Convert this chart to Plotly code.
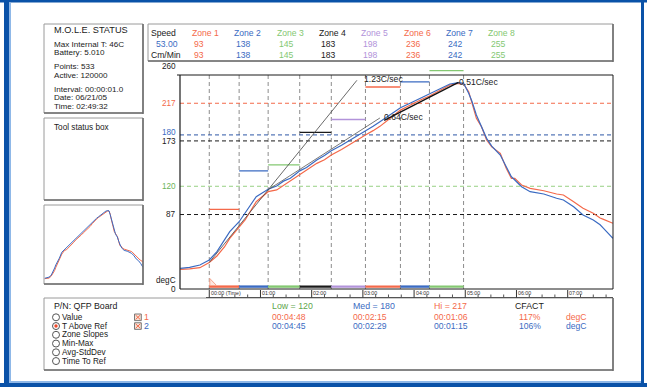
import plotly.graph_objects as go

W, H = 647, 387
FONT = "Liberation Sans, Arial, sans-serif"

ORANGE = "#f4694a"
BLUE = "#3b6bc2"
GREEN = "#84c872"
PURPLE = "#b293da"
BLACK = "#1a1a1a"
FRAME_BLUE = "#0a52a8"
LIGHT_BLUE = "#8fb8e8"

# ---- profile readings (seconds from zone 1 entry, degC) ----
time_s = [-34, -23, -11, 0, 9, 18, 24, 35, 42, 55, 69, 79, 87, 95, 101, 106,
          114, 126, 135, 143, 155, 165, 175, 183, 192, 200, 212, 224, 234,
          243, 250, 258, 270, 282, 292, 298, 304, 308, 313, 319, 325, 331,
          337, 341, 348, 354, 358, 366, 376, 392, 407, 415, 427, 438, 450,
          458, 462, 473]
probe1_degC = [23.0, 23.4, 24.9, 31.0, 38.6, 49.4, 59.2, 72.8, 80.6, 102.0,
               113.7, 115.7, 121.0, 125.4, 130.0, 133.0, 138.0, 146.8, 151.0,
               156.5, 163.0, 169.4, 175.0, 180.0, 185.0, 190.0, 199.4, 209.0,
               214.0, 218.8, 222.0, 225.5, 231.7, 238.3, 240.3, 239.5, 230.5,
               217.6, 199.4, 189.6, 174.0, 166.0, 162.0, 158.5, 141.0, 129.3,
               129.3, 121.5, 117.6, 114.8, 111.0, 109.8, 102.0, 94.3, 88.4,
               83.0, 81.4, 76.8]
probe2_degC = [24.2, 25.3, 28.0, 33.9, 43.6, 57.2, 67.0, 78.6, 88.4, 107.8,
               116.5, 120.3, 126.0, 129.3, 134.0, 138.0, 142.0, 150.7, 156.0,
               161.6, 168.0, 174.0, 180.0, 184.0, 190.0, 195.5, 203.3, 211.8,
               216.5, 220.8, 224.0, 227.8, 233.3, 239.5, 241.0, 240.3, 228.6,
               218.8, 203.3, 189.6, 176.0, 167.0, 160.0, 156.5, 142.9, 131.2,
               127.3, 119.5, 113.7, 111.0, 106.0, 104.0, 96.1, 86.4, 80.6,
               75.0, 70.9, 59.2]

zone_names = ["Zone 1", "Zone 2", "Zone 3", "Zone 4",
              "Zone 5", "Zone 6", "Zone 7", "Zone 8"]
zone_setpoints = [93, 138, 145, 183, 198, 236, 242, 255]
zone_colors = [ORANGE, BLUE, GREEN, BLACK, PURPLE, ORANGE, BLUE, GREEN]
zone_edges_s = [0, 35, 69, 106, 143, 183, 224, 258, 298]
conveyor_speed = "53.00"

ref_levels = [217, 180, 173, 120, 87]
ref_colors = [ORANGE, "#2c56a6", BLACK, "#98d084", BLACK]
axis_labels = [260, 217, 180, 173, 120, 87, 0]
axis_label_colors = [BLACK, ORANGE, BLUE, BLACK, "#6db35a", BLACK, BLACK]
axis_label_shift = [0, 0, 2, -1, 0, 0, 0]

slope_rates = [1.23, 0.64, 0.51]
slope_t0 = [0, 69, 205]
slope_T0 = [31, 116, 197]
slope_t1 = [173, 200, 292]

tick_minutes = [0, 1, 2, 3, 4, 5, 6, 7]
tick_labels = ["00:00 (Time)", "01:00", "02:00", "03:00",
               "04:00", "05:00", "06:00", "07:00"]

status_lines = ["Max Internal T: 46C", "Battery: 5.010", "Points: 533",
                "Active: 120000", "Interval: 00:00:01.0", "Date: 06/21/05",
                "Time: 02:49:32"]
view_options = ["Value", "T Above Ref", "Zone Slopes", "Min-Max",
                "Avg-StdDev", "Time To Ref"]
selected_view = "T Above Ref"
stat_headers = ["Low = 120", "Med = 180", "Hi = 217", "CFACT"]
stat_header_colors = ["#5ea64c", BLUE, ORANGE, BLACK]
probe1_stats = ["00:04:48", "00:02:15", "00:01:06", "117%", "degC"]
probe2_stats = ["00:04:45", "00:02:29", "00:01:15", "106%", "degC"]

X_RANGE = [-34.3, 473.1]
Y_RANGE = [0, 260]


def PX(x):
    return x / W


def PY(y):
    return 1 - y / H


shapes = []
annotations = []


def line_px(x0, y0, x1, y1, color, width=1, dash=None, layer="above"):
    shapes.append(dict(type="line", xref="paper", yref="paper", layer=layer,
                       x0=PX(x0), y0=PY(y0), x1=PX(x1), y1=PY(y1),
                       line=dict(color=color, width=width, dash=dash)))


def rect_px(x0, y0, x1, y1, fill, color=None, width=0, layer="below"):
    shapes.append(dict(type="rect", xref="paper", yref="paper", layer=layer,
                       x0=PX(x0), y0=PY(y0), x1=PX(x1), y1=PY(y1),
                       fillcolor=fill, line=dict(color=color or fill, width=width)))


def panel_box(x0, y0, x1, y1):
    rect_px(x0, y0, x1, y1, "white", "#9a9a9a", 1)
    line_px(x1, y0, x1, y1 + 1, "#6e6e6e", 1.6)
    line_px(x0, y1, x1, y1, "#6e6e6e", 1.6)


def text_px(x, y, s, color=BLACK, size=8.2, anchor="left"):
    annotations.append(dict(xref="paper", yref="paper", x=PX(x), y=PY(y),
                            text=s, showarrow=False, xanchor=anchor,
                            yanchor="middle", borderpad=0,
                            font=dict(family=FONT, size=size, color=color)))


# ---- outer window frame ----
rect_px(0, 0, W, 2.5, FRAME_BLUE, layer="above")
rect_px(4, 0, 9, H, FRAME_BLUE, layer="above")
rect_px(9, 2.5, 11, 383, LIGHT_BLUE, layer="above")
rect_px(0, 383, W, H, FRAME_BLUE, layer="above")
rect_px(11, 381, 641, 383, LIGHT_BLUE, layer="above")
rect_px(641, 0, 644, H, FRAME_BLUE, layer="above")

# ---- status box ----
panel_box(44, 24, 143, 113)
text_px(53, 30, "M.O.L.E. STATUS", size=9.2)
for s, yy in zip(status_lines, [44, 52.7, 67, 75.3, 89, 97.3, 106]):
    text_px(53, yy, s, size=8.1)

# ---- tool status box ----
panel_box(44, 118, 143, 200)
text_px(53, 127, "Tool status box")

# ---- overview chart box ----
panel_box(44, 205, 143, 284)

# ---- zone speed table ----
panel_box(148, 24, 613, 61)
text_px(150, 33.3, "Speed", size=8.6)
text_px(155, 44, conveyor_speed, BLUE, 8.6)
text_px(150, 55, "Cm/Min", size=8.6)
for i, (name, sp, col) in enumerate(zip(zone_names, zone_setpoints, zone_colors)):
    x = 190.7 + i * 42.4
    text_px(x, 33.3, name, col, 8.6)
    text_px(x + 2, 44, str(sp), col, 8.6)
    text_px(x + 2, 55, str(sp), col, 8.6)

# ---- bottom control panel ----
panel_box(44, 298, 613, 370)
text_px(53, 306, "P/N: QFP Board", size=8.8)
for k, opt in enumerate(view_options):
    yy = 317.3 + k * 8.75
    shapes.append(dict(type="circle", xref="paper", yref="paper",
                       x0=PX(52.5), x1=PX(59.5), y0=PY(yy + 3.5), y1=PY(yy - 3.5),
                       fillcolor="white", line=dict(color="#555", width=1)))
    if opt == selected_view:
        shapes.append(dict(type="circle", xref="paper", yref="paper",
                           x0=PX(54.3), x1=PX(57.7), y0=PY(yy + 1.7), y1=PY(yy - 1.7),
                           fillcolor="#f04a2a", line=dict(color="#f04a2a", width=0)))
    text_px(61, yy, opt, size=8.2)

for k, (lab, col) in enumerate([("1", ORANGE), ("2", BLUE)]):
    yy = 317.3 + k * 8.75
    rect_px(134.5, yy - 3.3, 141.3, yy + 3.3, "#f6e4d8", "#7a7a7a", 1, layer="above")
    line_px(135.5, yy - 2.3, 140.3, yy + 2.3, ORANGE, 1)
    line_px(135.5, yy + 2.3, 140.3, yy - 2.3, ORANGE, 1)
    text_px(143, yy, lab, col, 8.8)

stat_x = [270.7, 351.7, 433.3, 514]
for x, s, c in zip(stat_x, stat_headers, stat_header_colors):
    text_px(x, 306, s, c, 8.8)
for x, s in zip(stat_x[:3] + [518.3, 565], probe1_stats):
    text_px(x, 317.3, s, ORANGE, 8.6)
for x, s in zip(stat_x[:3] + [518.3, 565], probe2_stats):
    text_px(x, 326, s, BLUE, 8.6)

# ---- main chart frame ----
line_px(180, 75, 613, 75, BLACK, 1)
line_px(613, 75, 613, 289, BLACK, 1)
line_px(180, 289, 613, 289, BLACK, 1)
line_px(180, 75, 180, 289, BLACK, 1.2)
line_px(177, 75, 180, 75, BLACK, 1)

# zone boundaries
for e in zone_edges_s:
    shapes.append(dict(type="line", xref="x", yref="paper", x0=e, x1=e,
                       y0=PY(289), y1=PY(75), layer="below",
                       line=dict(color="#8c8c8c", width=1, dash="4px,3px")))

# reference temperature levels
for lvl, col in zip(ref_levels, ref_colors):
    shapes.append(dict(type="line", xref="paper", yref="y", layer="below",
                       x0=PX(180), x1=PX(613), y0=lvl, y1=lvl,
                       line=dict(color=col, width=1, dash="4px,3px")))

# zone colour strip under the curves
for a, b, col in zip(zone_edges_s[:-1], zone_edges_s[1:], zone_colors):
    shapes.append(dict(type="line", xref="x", yref="paper", x0=a, x1=b,
                       y0=PY(286.6), y1=PY(286.6), line=dict(color=col, width=2.4)))

# small "above reference" marker at the start
shapes.append(dict(type="path", xref="paper", yref="paper",
                   path=f"M {PX(209.8)} {PY(278.5)} L {PX(216.5)} {PY(285.5)} L {PX(209.8)} {PY(285.5)} Z",
                   fillcolor="rgba(250,190,170,0.35)",
                   line=dict(color="#f7a58e", width=1)))

# time axis below the plot
line_px(206, 297.5, 613, 297.5, "#555", 1.2)
for m, lab in zip(tick_minutes, tick_labels):
    t = m * 60
    shapes.append(dict(type="line", xref="x", yref="paper", x0=t, x1=t,
                       y0=PY(297.5), y1=PY(290), line=dict(color="#333", width=1)))
    annotations.append(dict(xref="x", yref="paper", x=t, y=PY(292.6), text=lab,
                            showarrow=False, xanchor="left", yanchor="middle",
                            xshift=0.5, borderpad=0,
                            font=dict(family=FONT, size=5.3, color="#333")))
    for q in (15, 30, 45):
        tq = t + q
        if tq < X_RANGE[1]:
            shapes.append(dict(type="line", xref="x", yref="paper", x0=tq, x1=tq,
                               y0=PY(297.5), y1=PY(294.5),
                               line=dict(color="#555", width=1)))

# y-axis labels
for v, col, sh in zip(axis_labels, axis_label_colors, axis_label_shift):
    annotations.append(dict(xref="paper", yref="y", x=PX(177), y=v, text=str(v),
                            showarrow=False, xanchor="right", yanchor="middle",
                            yshift=sh, borderpad=0,
                            font=dict(family=FONT, size=8.2, color=col)))
text_px(177, 280.5, "degC", BLACK, 8.2, anchor="right")

fig = go.Figure()

# zone setpoint segments
for a, b, sp, col in zip(zone_edges_s[:-1], zone_edges_s[1:], zone_setpoints, zone_colors):
    fig.add_trace(go.Scatter(x=[a, b], y=[sp, sp], mode="lines",
                             line=dict(color=col, width=1.3), hoverinfo="skip"))

# probe curves
fig.add_trace(go.Scatter(x=time_s, y=probe1_degC, mode="lines",
                         line=dict(color=ORANGE, width=1.2), name="1"))
fig.add_trace(go.Scatter(x=time_s, y=probe2_degC, mode="lines",
                         line=dict(color=BLUE, width=1.2), name="2"))

# slope fits
slope_styles = [("#444", 0.8), ("#555", 0.8), ("#111", 1.3)]
label_offsets = [(6, 1), (3, 1), (0, 0)]
for rate, t0, T0, t1, (col, w), (dx, dy) in zip(slope_rates, slope_t0, slope_T0,
                                                 slope_t1, slope_styles, label_offsets):
    T1 = T0 + rate * (t1 - t0)
    fig.add_trace(go.Scatter(x=[t0, t1], y=[T0, T1], mode="lines",
                             line=dict(color=col, width=w), hoverinfo="skip"))
    annotations.append(dict(xref="x", yref="y", x=t1, y=T1,
                            text=f"{rate:.2f}C/sec", showarrow=False,
                            xanchor="left", yanchor="middle", xshift=dx, yshift=dy,
                            borderpad=0,
                            font=dict(family=FONT, size=8.6, color="#222")))

# overview chart
for yv, col in [(probe1_degC, ORANGE), (probe2_degC, BLUE)]:
    fig.add_trace(go.Scatter(x=time_s, y=yv, mode="lines", xaxis="x2", yaxis="y2",
                             line=dict(color=col, width=1), hoverinfo="skip"))

fig.update_layout(
    width=W, height=H,
    margin=dict(l=0, r=0, t=0, b=0),
    paper_bgcolor="white", plot_bgcolor="rgba(0,0,0,0)",
    showlegend=False,
    xaxis=dict(domain=[PX(180), PX(613)], range=X_RANGE, visible=False),
    yaxis=dict(domain=[PY(289), PY(289 - 0.856 * 260)], range=Y_RANGE, visible=False),
    xaxis2=dict(domain=[PX(44.5), PX(143)], range=X_RANGE, visible=False, anchor="y2"),
    yaxis2=dict(domain=[PY(284), PY(205)], range=[6, 259], visible=False, anchor="x2"),
    shapes=shapes,
    annotations=annotations,
)

fig.write_html("out.html")
